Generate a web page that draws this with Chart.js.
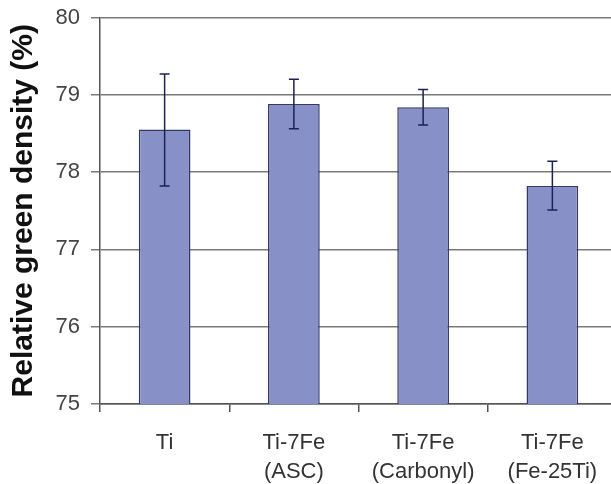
<!DOCTYPE html>
<html>
<head>
<meta charset="utf-8">
<script src="https://cdn.jsdelivr.net/npm/chart.js@4/dist/chart.umd.min.js"></script>
<style>
  html, body { margin: 0; padding: 0; background: #fff; overflow: hidden; }
  #wrap { width: 617px; height: 484px; }
</style>
</head>
<body>
<div id="wrap"><canvas id="c" width="617" height="484"></canvas></div>
<script>
const categories = [["Ti"], ["Ti-7Fe", "(ASC)"], ["Ti-7Fe", "(Carbonyl)"], ["Ti-7Fe", "(Fe-25Ti)"]];
const meanDensity = [78.55, 78.88, 78.84, 77.82];
const errorLow = [77.82, 78.56, 78.61, 77.51];
const errorHigh = [79.27, 79.20, 79.07, 78.14];
const yTicks = [75, 76, 77, 78, 79, 80];
const yTitle = "Relative green density (%)";

const errorBarPlugin = {
  id: 'errorBars',
  afterDatasetsDraw(chart) {
    const ctx = chart.ctx;
    const y = chart.scales.y;
    const meta = chart.getDatasetMeta(0);
    ctx.save();
    ctx.strokeStyle = '#1e2252';
    ctx.lineWidth = 1.5;
    meta.data.forEach((bar, i) => {
      const x = bar.x;
      const yl = y.getPixelForValue(errorLow[i]);
      const yh = y.getPixelForValue(errorHigh[i]);
      const cap = 5;
      ctx.beginPath();
      ctx.moveTo(x, yl); ctx.lineTo(x, yh);
      ctx.moveTo(x - cap, yl); ctx.lineTo(x + cap, yl);
      ctx.moveTo(x - cap, yh); ctx.lineTo(x + cap, yh);
      ctx.stroke();
    });
    ctx.restore();
  }
};

new Chart(document.getElementById('c'), {
  type: 'bar',
  data: {
    labels: categories,
    datasets: [{
      data: meanDensity,
      backgroundColor: '#8890c8',
      borderColor: '#33376a',
      borderWidth: 1.5,
      categoryPercentage: 1.0,
      barPercentage: 0.4
    }]
  },
  options: {
    responsive: false,
    animation: false,
    devicePixelRatio: 1,
    layout: { padding: { top: 17.5, right: 0, left: 0, bottom: 0 } },
    plugins: { legend: { display: false }, tooltip: { enabled: false } },
    scales: {
      x: {
        offset: true,
        grid: { offset: true, drawOnChartArea: false, drawTicks: true, tickLength: 8, color: '#555', lineWidth: 1.5 },
        border: { display: true, color: '#555', width: 1.5 },
        ticks: {
          color: '#333',
          padding: 17,
          maxRotation: 0,
          autoSkip: false,
          font: { family: '"Liberation Sans", Arial, sans-serif', size: 22, lineHeight: 1.3 }
        },
        afterFit(axis) { axis.height = 80; axis.paddingLeft = 0; axis.paddingRight = 0; }
      },
      y: {
        min: 75,
        max: 80,
        afterBuildTicks(axis) { axis.ticks = yTicks.map(v => ({ value: v })); },
        grid: { color: '#7a7a7a', lineWidth: 1.5, drawTicks: true, tickLength: 9 },
        border: { display: true, color: '#555', width: 1.5 },
        ticks: {
          color: '#444',
          padding: 11,
          font: { family: '"Liberation Sans", Arial, sans-serif', size: 22 }
        },
        title: {
          display: true,
          text: yTitle,
          color: '#111',
          padding: { top: 6, bottom: 0 },
          font: { family: '"Liberation Sans", Arial, sans-serif', size: 30, weight: 'bold', lineHeight: 1.2 }
        },
        afterFit(axis) { axis.width = 100; axis.paddingTop = 0; axis.paddingBottom = 0; }
      }
    }
  },
  plugins: [errorBarPlugin]
});
</script>
</body>
</html>
